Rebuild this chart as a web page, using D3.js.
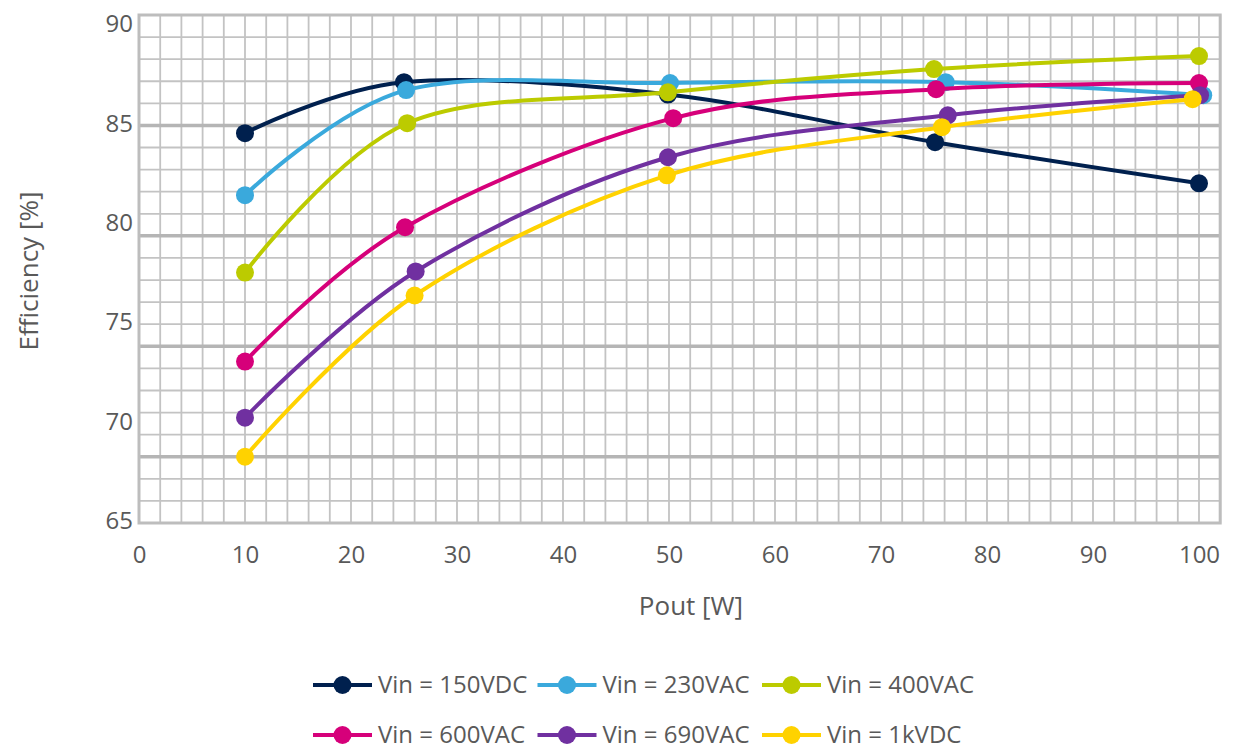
<!DOCTYPE html>
<html>
<head>
<meta charset="utf-8">
<script src="https://cdn.jsdelivr.net/npm/d3@7"></script>
<style>
  html, body { margin: 0; padding: 0; background: #fff; }
  svg { display: block; }
  text { font-family: "Open Sans", sans-serif; fill: #595959; }
</style>
</head>
<body>
<svg id="chart" width="1238" height="751"></svg>
<script>
// ---- Data ----
const seriesNames = ["Vin = 150VDC", "Vin = 230VAC", "Vin = 400VAC", "Vin = 600VAC", "Vin = 690VAC", "Vin = 1kVDC"];
const seriesColors = ["#00204e", "#3aa9dc", "#bccb00", "#d6007a", "#7030a0", "#ffd200"];

const pout150 = [10, 25.0, 49.9, 75.1, 100];
const eff150  = [84.65, 86.96, 86.40, 84.24, 82.38];
const pout230 = [10, 25.2, 50.1, 76.1, 100.4];
const eff230  = [81.84, 86.60, 86.92, 86.96, 86.37];
const pout400 = [10, 25.3, 49.9, 75.0, 100];
const eff400  = [78.34, 85.10, 86.50, 87.55, 88.14];
const pout600 = [10, 25.1, 50.4, 75.2, 100];
const eff600  = [74.31, 80.39, 85.33, 86.64, 86.92];
const pout690 = [10, 26.1, 49.9, 76.3, 100.1];
const eff690  = [71.77, 78.39, 83.56, 85.46, 86.37];
const pout1k  = [10, 26.0, 49.8, 75.75, 99.4];
const eff1k   = [70.00, 77.30, 82.74, 84.92, 86.19];

const xTickValues = [0, 10, 20, 30, 40, 50, 60, 70, 80, 90, 100];
const yTickValues = [65, 70, 75, 80, 85, 90];

const xs = [pout150, pout230, pout400, pout600, pout690, pout1k];
const ys = [eff150, eff230, eff400, eff600, eff690, eff1k];
const series = seriesNames.map((name, i) => ({
  name, color: seriesColors[i],
  points: xs[i].map((x, j) => ({ x, y: ys[i][j] }))
}));

// ---- Layout ----
const svg = d3.select("#chart");
svg.append("rect").attr("width", 1238).attr("height", 751).attr("fill", "#fff");

const x = d3.scaleLinear().domain([0, 100]).range([139, 1199]);
const xMaxGrid = 102;
const y = d3.scaleLinear().domain([67, 90]).range([523, 15]);
const yLabel = d3.scaleLinear().domain([65, 90]).range([521, 24]);

const plotLeft = x(0), plotRight = x(xMaxGrid), plotTop = y(90), plotBottom = y(67);

// ---- Grid ----
const grid = svg.append("g");
const vVals = d3.range(0, xMaxGrid + 0.001, 2);
grid.selectAll("line.v").data(vVals).enter().append("line")
  .attr("x1", d => x(d)).attr("x2", d => x(d))
  .attr("y1", plotTop).attr("y2", plotBottom)
  .attr("stroke", "#c3c3c3").attr("stroke-width", 1.8);
const hVals = d3.range(67, 90.001, 1);
grid.selectAll("line.h").data(hVals).enter().append("line")
  .attr("x1", plotLeft).attr("x2", plotRight)
  .attr("y1", d => y(d)).attr("y2", d => y(d))
  .attr("stroke", d => (d % 5 === 0 && d !== 90) ? "#b5b5b5" : "#c3c3c3")
  .attr("stroke-width", d => (d % 5 === 0 && d !== 90) ? 3.5 : 1.8);
grid.append("rect")
  .attr("x", plotLeft).attr("y", plotTop)
  .attr("width", plotRight - plotLeft).attr("height", plotBottom - plotTop)
  .attr("fill", "none").attr("stroke", "#bdbdbd").attr("stroke-width", 3);

// ---- Axes labels ----
const xAxis = svg.append("g").attr("transform", `translate(0,${plotBottom + 20})`)
  .call(d3.axisBottom(x).tickValues(xTickValues).tickSize(0).tickFormat(d3.format("d")));
xAxis.select(".domain").remove();
xAxis.selectAll("text").attr("font-size", 24).attr("dy", "0.71em")
  .style("font-family", "'Open Sans', sans-serif").attr("fill", "#595959");

const yAxis = svg.append("g").attr("transform", `translate(133,0)`)
  .call(d3.axisLeft(yLabel).tickValues(yTickValues).tickSize(0).tickPadding(0).tickFormat(d3.format("d")));
yAxis.select(".domain").remove();
yAxis.selectAll("text").attr("font-size", 24)
  .style("font-family", "'Open Sans', sans-serif").attr("fill", "#595959");

svg.append("text").attr("x", 691).attr("y", 605)
  .attr("text-anchor", "middle").attr("dominant-baseline", "central")
  .attr("font-size", 26).text("Pout [W]");
svg.append("text").attr("transform", "translate(28,271) rotate(-90)")
  .attr("text-anchor", "middle").attr("dominant-baseline", "central")
  .attr("font-size", 26).text("Efficiency [%]");

// ---- Series ----
const line = d3.line().x(d => x(d.x)).y(d => y(d.y)).curve(d3.curveCardinal.tension(0));
const sg = svg.append("g").selectAll("g").data(series).enter().append("g");
sg.append("path").attr("d", d => line(d.points))
  .attr("fill", "none").attr("stroke", d => d.color).attr("stroke-width", 4)
  .attr("stroke-linecap", "round");
sg.selectAll("circle").data(d => d.points.map(p => ({ ...p, color: d.color }))).enter()
  .append("circle").attr("cx", d => x(d.x)).attr("cy", d => y(d.y)).attr("r", 9)
  .attr("fill", d => d.color);

// ---- Legend ----
const legX0 = 313, legColW = 224.5, legRowY = [685, 735];
const leg = svg.append("g").selectAll("g").data(series).enter().append("g")
  .attr("transform", (d, i) => `translate(${legX0 + (i % 3) * legColW},${legRowY[Math.floor(i / 3)]})`);
leg.append("line").attr("x1", 0).attr("x2", 59).attr("y1", 0).attr("y2", 0)
  .attr("stroke", d => d.color).attr("stroke-width", 4);
leg.append("circle").attr("cx", 29.5).attr("cy", 0).attr("r", 9).attr("fill", d => d.color);
leg.append("text").attr("x", 65).attr("y", 0).attr("dy", "0.35em")
  .attr("font-size", 24).text(d => d.name);
</script>
</body>
</html>
